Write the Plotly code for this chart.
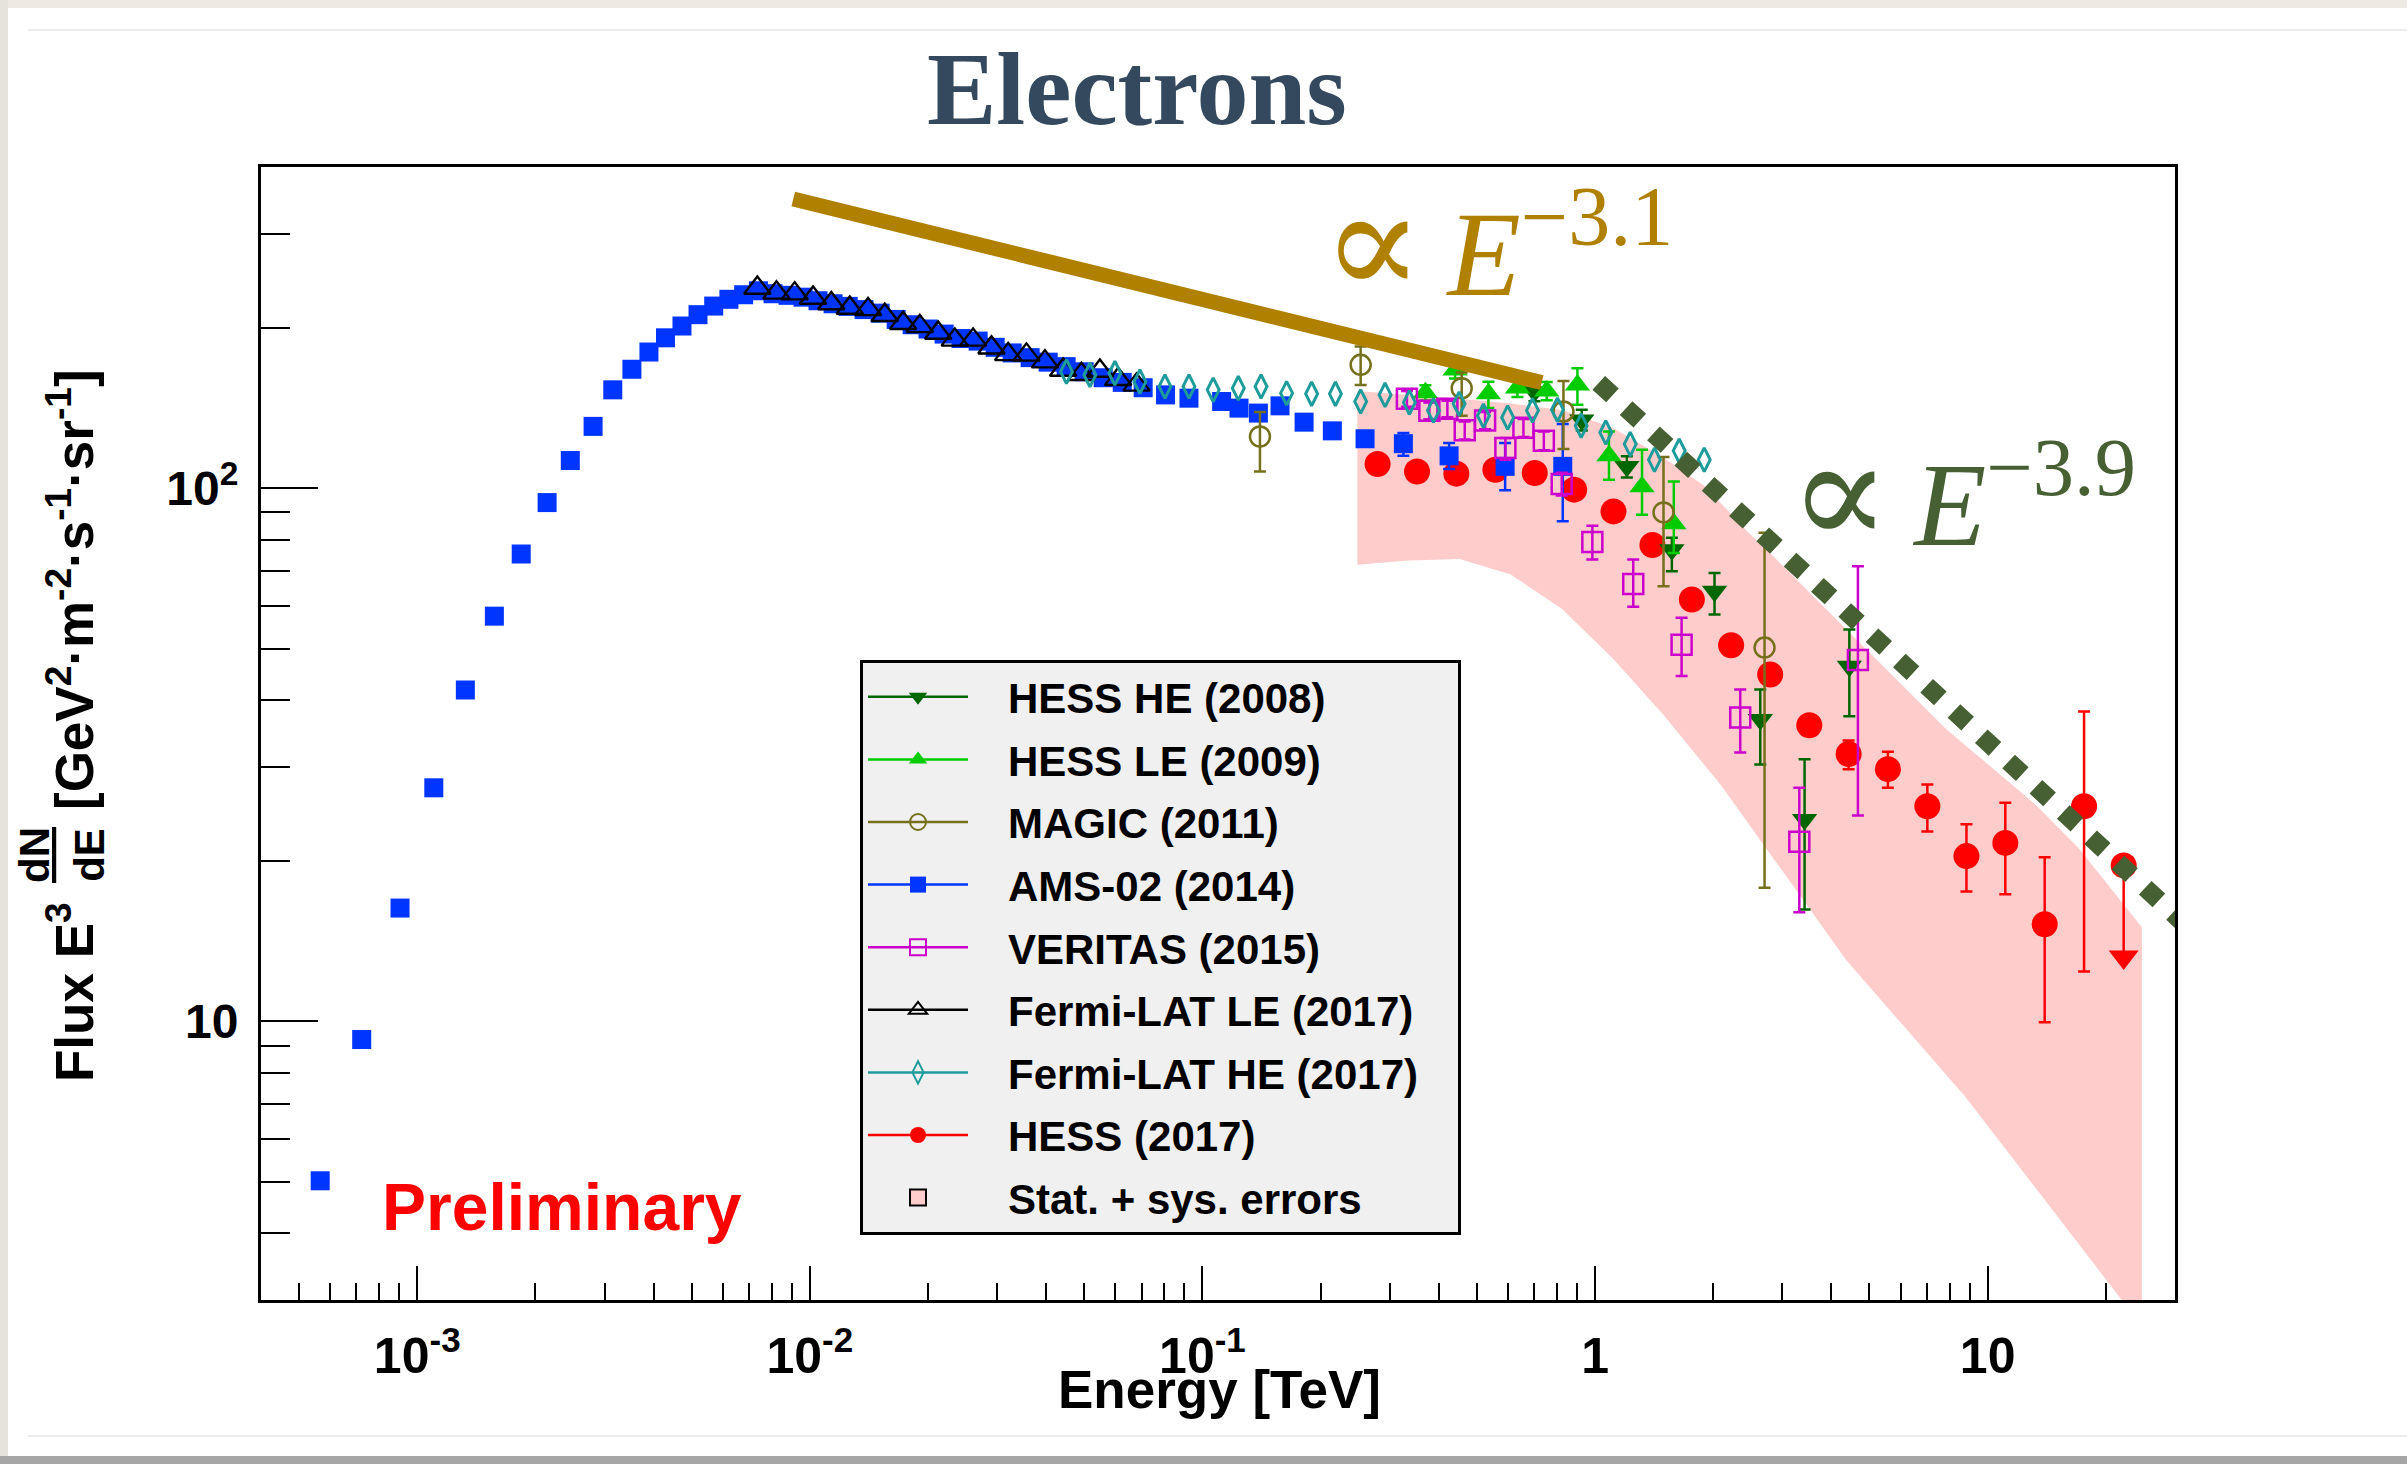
import math
import plotly.graph_objects as go

# ---------------- measured spectra: E in TeV, flux E^3 dN/dE ----------------
# AMS-02 (2014)
ams_E = [0.000566, 0.000722, 0.000904, 0.001102, 0.001326, 0.001572, 0.001840, 0.002142,
         0.002454, 0.002805, 0.003148, 0.003522, 0.003892, 0.004288, 0.004724, 0.005190,
         0.005690, 0.006220, 0.006783, 0.007396,
         0.008057, 0.008800, 0.009610, 0.01049, 0.01146, 0.01252, 0.01374, 0.01510,
         0.01659, 0.01822, 0.02000, 0.02198, 0.02428, 0.02683, 0.02965, 0.03276,
         0.03640, 0.04046, 0.04496, 0.04996, 0.05587, 0.06246, 0.07063,
         0.08054, 0.09239, 0.1119, 0.1239, 0.1388, 0.1576, 0.1815, 0.2142, 0.2595,
         0.3249, 0.4248, 0.5901, 0.8274]
ams_F = [5.02, 9.24, 16.3, 27.4, 41.8, 57.5, 75.2, 93.9,
         112.6, 130.5, 152.8, 167.0, 179.9, 191.3, 201.3, 211.4,
         219.4, 225.9, 230.4, 234.4,
         231.4, 229.8, 228.0, 224.5, 221.6, 219.1, 216.1, 212.8,
         207.1, 202.4, 198.7, 194.4, 190.7, 188.6, 183.6, 179.2,
         175.6, 172.2, 168.9, 165.2, 161.0, 157.8, 154.2,
         149.5, 147.4, 145.3, 141.2, 138.2, 142.6, 132.9, 128.0, 123.7,
         121.1, 114.9, 109.8, 109.8]
ams_err_hi = [0, 0, 0, 0, 0, 0, 0, 0, 0, 0, 0, 0, 0, 0, 0, 0, 0, 0, 0, 0,
              0, 0, 0, 0, 0, 0, 0, 0, 0, 0, 0, 0, 0, 0, 0, 0, 0, 0, 0, 0, 0, 0, 0,
              0, 0, 0, 0, 0, 0, 0, 0, 3.0, 5.7, 6.5, 11.6, 22.1]
ams_err_lo = [0, 0, 0, 0, 0, 0, 0, 0, 0, 0, 0, 0, 0, 0, 0, 0, 0, 0, 0, 0,
              0, 0, 0, 0, 0, 0, 0, 0, 0, 0, 0, 0, 0, 0, 0, 0, 0, 0, 0, 0, 0, 0, 0,
              0, 0, 0, 0, 0, 0, 0, 0, 3.0, 6.1, 6.3, 10.8, 23.2]

# Fermi-LAT LE (2017)
fermi_le_E = [0.00735, 0.00822, 0.00915, 0.01019, 0.01134, 0.01264, 0.01407, 0.01552,
              0.01728, 0.01906, 0.02122, 0.02340, 0.02605, 0.02901, 0.03200, 0.03562,
              0.03970, 0.04418, 0.04918, 0.05480, 0.06101, 0.06794]
fermi_le_F = [237.2, 232.3, 231.5, 227.2, 221.8, 217.6, 216.3, 210.9,
              203.7, 201.0, 195.3, 189.6, 189.6, 183.3, 178.1, 177.7,
              172.6, 166.5, 163.4, 165.8, 159.9, 156.1]

# Fermi-LAT HE (2017)
fermi_he_E = [0.04505, 0.05168, 0.05984, 0.06929, 0.08025, 0.09239, 0.1065, 0.1234,
              0.1410, 0.1638, 0.1897, 0.2181, 0.2529, 0.2918, 0.3365, 0.3876,
              0.4505, 0.5195, 0.5990, 0.6927, 0.8021, 0.9218, 1.065, 1.229,
              1.417, 1.638, 1.897]
fermi_he_F = [165.3, 163.0, 164.2, 158.3, 155.0, 155.0, 152.8, 153.9,
              155.0, 150.6, 150.2, 150.2, 145.3, 149.5, 144.7, 139.8,
              143.9, 136.6, 135.6, 139.8, 140.2, 130.9, 127.1, 120.9,
              113.0, 117.4, 113.0]

# MAGIC (2011)
magic_E = [0.1401, 0.2529, 0.4574, 0.8308, 1.494, 2.702]
magic_F = [124.9, 170.2, 153.9, 139.2, 90.0, 50.2]
magic_err_hi = [14.0, 14.0, 10.8, 19.6, 24.3, 32.2]
magic_err_lo = [17.5, 14.1, 17.3, 20.9, 24.6, 32.4]

# VERITAS (2015)
veritas_E = [0.3317, 0.3784, 0.4206, 0.4656, 0.5247, 0.5910, 0.6570, 0.7405,
             0.8224, 0.9842, 1.251, 1.661, 2.343, 3.313, 4.672]
veritas_F = [147.0, 139.6, 140.8, 128.3, 133.9, 118.8, 129.7, 122.7,
             101.8, 79.2, 66.1, 50.8, 37.1, 21.7, 47.6]
veritas_err_hi = [5.0, 5.0, 5.0, 5.0, 5.0, 5.3, 5.0, 5.0, 5.0, 5.8, 7.3, 6.3, 4.8, 5.7, 23.7]
veritas_err_lo = [5.0, 5.0, 5.0, 5.0, 5.0, 5.8, 5.0, 5.0, 5.0, 5.8, 6.2, 6.4, 5.2, 5.7, 23.3]

# HESS HE (2008)
hess_he_E = [0.7008, 0.9249, 1.205, 1.569, 2.015, 2.635, 3.417, 4.443]
hess_he_F = [151.5, 134.2, 109.7, 76.6, 64.0, 36.8, 23.9, 46.3]
hess_he_err_hi = [6.0, 6.0, 5.0, 4.1, 5.3, 5.1, 7.1, 8.0]
hess_he_err_lo = [6.0, 6.0, 5.0, 6.8, 6.1, 6.5, 7.7, 9.0]

# HESS LE (2009)
hess_le_E = [0.3697, 0.4400, 0.5350, 0.6342, 0.7531, 0.9017, 1.085, 1.317, 1.587]
hess_le_F = [150.9, 166.5, 150.2, 154.1, 152.1, 156.1, 114.9, 100.6, 85.7]
hess_le_err_hi = [5.0, 6.0, 8.1, 6.0, 6.0, 11.7, 12.7, 17.4, 17.2]
hess_le_err_lo = [5.0, 6.0, 9.0, 6.0, 6.0, 12.9, 11.3, 11.5, 10.2]

# HESS (2017)
hess17_E = [0.2793, 0.352, 0.4433, 0.5573, 0.7021, 0.8847, 1.114, 1.400, 1.764, 2.221,
            2.793, 3.513, 4.424, 5.57, 7.02, 8.83, 11.09, 13.97, 17.6]
hess17_F = [110.9, 107.4, 106.4, 108.2, 106.7, 99.3, 90.4, 78.2, 61.8, 50.7,
            44.7, 35.9, 31.7, 29.7, 25.3, 20.4, 21.6, 15.2, 25.3]
hess17_err_hi = [2.2, 2.1, 2.1, 2.2, 2.1, 2.0, 1.8, 1.6, 2.5, 2.0,
                 1.8, 1.4, 1.9, 2.3, 2.5, 3.0, 4.1, 5.1, 12.8]
hess17_err_lo = [2.2, 2.1, 2.1, 2.2, 2.1, 2.0, 1.8, 1.6, 2.5, 2.0,
                 1.8, 1.4, 2.0, 2.3, 2.6, 2.9, 4.3, 5.25, 12.9]
# HESS (2017) upper limit: point value and arrow tip
hess17_ul_E = [22.2]
hess17_ul_F = [19.6]
hess17_ul_tip = [13.2]

# HESS (2017) statistical + systematic band
band_E_upper = [0.248, 0.335, 0.452, 0.610, 0.823, 1.103, 1.479, 1.909, 2.46, 2.733,
                4.61, 7.77, 13.15, 17.06, 24.7]
band_F_upper = [152.0, 149.5, 147.0, 144.0, 140.0, 130.0, 114.6, 100.7, 82.4, 76.7,
                52.2, 35.5, 25.6, 21.1, 15.0]
band_E_lower = [0.248, 0.335, 0.452, 0.610, 0.823, 1.11, 1.496, 2.10, 2.734, 3.55,
                4.37, 8.77, 19.2, 21.95, 24.7]
band_F_lower = [71.8, 73.1, 73.6, 68.8, 59.4, 47.9, 37.5, 27.6, 21.1, 16.1,
                13.0, 7.22, 3.41, 3.0, 2.7]

# guide power laws
powlaw31_E = [0.009073, 0.7313]
powlaw31_F = [348.3, 157.7]
powlaw39_E = [1.022, 32.07]
powlaw39_F = [157.5, 15.1]

# axis ticks
x_major = [1e-3, 1e-2, 1e-1, 1, 10]
x_labels = ["10<sup>-3</sup>", "10<sup>-2</sup>", "10<sup>-1</sup>", "1", "10"]
y_major = [10, 100]
y_labels = ["10", "10<sup>2</sup>"]

# ---------------- geometry ----------------
FIG_W, FIG_H = 2407, 1464
L, R, T, B = 261, 2175, 167, 1300
PW, PH = R - L, B - T


def px(x):
    return (x - L) / PW


def py(y):
    return (B - y) / PH


SANS = "Liberation Sans, Arial, Helvetica, sans-serif"
SERIF = "Liberation Serif, Times New Roman, DejaVu Serif, serif"

C_HESS_HE = "#006600"
C_HESS_LE = "#00cc00"
C_MAGIC = "#76701c"
C_AMS = "#0034ff"
C_VERITAS = "#cc00cc"
C_FERMI_LE = "#000000"
C_FERMI_HE = "#1e9c9c"
C_HESS17 = "#ff0000"
C_BAND = "#ffcccc"
C_GOLD = "#b08000"
C_GREEN = "#466034"

fig = go.Figure()

# systematic band
fig.add_trace(go.Scatter(
    x=band_E_upper + band_E_lower[::-1],
    y=band_F_upper + band_F_lower[::-1],
    mode="lines", fill="toself", fillcolor=C_BAND, line=dict(width=0),
    hoverinfo="skip", showlegend=False))


def add_points(E, F, hi, lo, color, symbol, size, lw):
    marker = dict(symbol=symbol, size=size, color=color,
                  line=dict(color=color, width=lw))
    err = None
    if hi is not None:
        err = dict(type="data", symmetric=False, array=hi, arrayminus=lo,
                   color=color, thickness=2.5, width=6)
    fig.add_trace(go.Scatter(x=E, y=F, mode="markers", marker=marker,
                             error_y=err, showlegend=False))


add_points(hess17_E, hess17_F, hess17_err_hi, hess17_err_lo, C_HESS17, "circle", 26, 0)
# upper limit: point, line down and arrow head
fig.add_trace(go.Scatter(
    x=hess17_ul_E, y=hess17_ul_F, mode="markers",
    marker=dict(symbol="circle", size=26, color=C_HESS17),
    error_y=dict(type="data", symmetric=False, array=[0],
                 arrayminus=[hess17_ul_F[0] - hess17_ul_tip[0]],
                 color=C_HESS17, thickness=2.5, width=0),
    showlegend=False))
fig.add_trace(go.Scatter(
    x=hess17_ul_E, y=hess17_ul_tip, mode="markers",
    marker=dict(symbol="triangle-down", size=26, color=C_HESS17),
    showlegend=False))
add_points(ams_E, ams_F, ams_err_hi, ams_err_lo, C_AMS, "square", 19, 0)
add_points(hess_he_E, hess_he_F, hess_he_err_hi, hess_he_err_lo, C_HESS_HE, "triangle-down", 22, 0)
add_points(hess_le_E, hess_le_F, hess_le_err_hi, hess_le_err_lo, C_HESS_LE, "triangle-up", 22, 0)
add_points(magic_E, magic_F, magic_err_hi, magic_err_lo, C_MAGIC, "circle-open", 20, 2.5)
add_points(veritas_E, veritas_F, veritas_err_hi, veritas_err_lo, C_VERITAS, "square-open", 20, 2.5)
add_points(fermi_le_E, fermi_le_F, None, None, C_FERMI_LE, "triangle-up-open", 23, 2.4)
add_points(fermi_he_E, fermi_he_F, None, None, C_FERMI_HE, "diamond-tall-open", 17, 3)

# guide power laws
fig.add_trace(go.Scatter(x=powlaw31_E, y=powlaw31_F, mode="lines",
                         line=dict(color=C_GOLD, width=15), showlegend=False,
                         hoverinfo="skip"))
fig.add_trace(go.Scatter(x=powlaw39_E, y=powlaw39_F, mode="lines",
                         line=dict(color=C_GREEN, width=18.6, dash="dot"),
                         showlegend=False, hoverinfo="skip"))

# legend entries
NB = "\u00a0"
legend_entries = [
    ("HESS HE (2008)", C_HESS_HE, "triangle-down", 0),
    ("HESS LE (2009)", C_HESS_LE, "triangle-up", 0),
    ("MAGIC (2011)", C_MAGIC, "circle-open", 2),
    ("AMS-02 (2014)", C_AMS, "square", 0),
    ("VERITAS (2015)", C_VERITAS, "square-open", 2),
    ("Fermi-LAT LE (2017)", C_FERMI_LE, "triangle-up-open", 2),
    ("Fermi-LAT HE (2017)", C_FERMI_HE, "diamond-tall-open", 2),
    ("HESS (2017)", C_HESS17, "circle", 0),
]
for i, (name, color, symbol, lw) in enumerate(legend_entries):
    fig.add_trace(go.Scatter(
        x=[None], y=[None], mode="lines+markers", name=NB * 3 + name + NB * 3,
        legendgroup=f"g{i}",
        line=dict(color=color, width=2.5),
        marker=dict(symbol=symbol, size=16, color=color, line=dict(color=color, width=lw))))
fig.add_trace(go.Scatter(
    x=[None], y=[None], mode="markers", name=NB * 3 + "Stat. + sys. errors",
    legendgroup="g9",
    marker=dict(symbol="square", size=16, color=C_BAND, line=dict(color="black", width=2))))

x_minor = [m * 10.0 ** d for d in range(-4, 2) for m in range(2, 10)]
x_minor = [v for v in x_minor if 4e-4 < v < 30 and v not in x_major]
y_minor = [4, 5, 6, 7, 8, 9, 20, 30, 40, 50, 60, 70, 80, 90, 200, 300]

fig.update_layout(
    width=FIG_W, height=FIG_H,
    margin=dict(l=L, r=FIG_W - R, t=T, b=FIG_H - B, pad=0),
    paper_bgcolor="white", plot_bgcolor="white",
    xaxis=dict(
        type="log", range=[math.log10(4e-4), math.log10(30)],
        showline=True, linecolor="black", linewidth=3, mirror=True,
        showgrid=False, zeroline=False,
        ticks="inside", ticklen=34, tickwidth=2, tickcolor="black",
        tickmode="array", tickvals=x_major, ticktext=x_labels,
        tickfont=dict(family=SANS, size=50, color="black", weight="bold"),
        ticklabelstandoff=10,
        minor=dict(tickmode="array", tickvals=x_minor, ticks="inside", ticklen=17,
                   tickwidth=2, tickcolor="black", showgrid=False),
    ),
    yaxis=dict(
        type="log", range=[math.log10(3), math.log10(400)],
        showline=True, linecolor="black", linewidth=3, mirror=True,
        showgrid=False, zeroline=False,
        ticks="inside", ticklen=57, tickwidth=2, tickcolor="black",
        tickmode="array", tickvals=y_major, ticktext=y_labels,
        tickfont=dict(family=SANS, size=48, color="black", weight="bold"),
        ticklabelstandoff=10,
        minor=dict(tickmode="array", tickvals=y_minor, ticks="inside", ticklen=29,
                   tickwidth=2, tickcolor="black", showgrid=False),
    ),
    legend=dict(
        x=px(860), y=py(660), xanchor="left", yanchor="top",
        bgcolor="#f0f0f0", bordercolor="black", borderwidth=3,
        font=dict(family=SANS, size=42, color="black", weight="bold"),
        itemwidth=100, traceorder="grouped", tracegroupgap=5,
    ),
    showlegend=True,
)

# proportionality sign drawn larger than the rest of the power-law label
PROP = '<span style="font-size:150px">∝</span>\u2009'
annotations = [
    dict(text="Electrons", x=px(1137), y=py(88), xanchor="center", yanchor="middle",
         font=dict(family=SERIF, size=104, color="#34495e", weight="bold")),
    dict(text="Preliminary", x=px(562), y=py(1207), xanchor="center", yanchor="middle",
         font=dict(family=SANS, size=66, color="#ff0000", weight="bold")),
    dict(text="Energy [TeV]", x=px(1219), y=py(1389), xanchor="center", yanchor="middle",
         font=dict(family=SANS, size=53, color="black", weight="bold")),
    dict(text="Flux E<sup>3</sup>", x=px(70), y=py(992), xanchor="center", yanchor="middle",
         textangle=-90, font=dict(family=SANS, size=53, color="black", weight="bold")),
    dict(text="<u>dN</u><br>dE", x=px(62), y=py(855), xanchor="center", yanchor="middle",
         textangle=-90, font=dict(family=SANS, size=42, color="black", weight="bold")),
    dict(text="[GeV<sup>2</sup>·m<sup>-2</sup>·s<sup>-1</sup>·sr<sup>-1</sup>]",
         x=px(70), y=py(590), xanchor="center", yanchor="middle",
         textangle=-90, font=dict(family=SANS, size=53, color="black", weight="bold")),
    dict(text=PROP + "<i>E</i><sup>−3.1</sup>", x=px(1320), y=py(244), xanchor="left",
         yanchor="middle", font=dict(family=SERIF, size=120, color=C_GOLD)),
    dict(text=PROP + "<i>E</i><sup>−3.9</sup>", x=px(1787), y=py(494), xanchor="left",
         yanchor="middle", font=dict(family=SERIF, size=118, color=C_GREEN)),
]
for a in annotations:
    a.update(xref="paper", yref="paper", showarrow=False)
fig.update_layout(annotations=annotations)

# slide frame around the figure
shapes = [
    dict(type="rect", x0=px(0), x1=px(FIG_W), y0=py(0), y1=py(8),
         fillcolor="#eeeae3", line=dict(width=0), layer="below"),
    dict(type="rect", x0=px(0), x1=px(8), y0=py(0), y1=py(FIG_H),
         fillcolor="#e6e3dd", line=dict(width=0), layer="below"),
    dict(type="line", x0=px(28), x1=px(FIG_W), y0=py(30), y1=py(30),
         line=dict(color="#ebebeb", width=2), layer="below"),
    dict(type="line", x0=px(28), x1=px(FIG_W), y0=py(1436), y1=py(1436),
         line=dict(color="#ebebeb", width=2), layer="below"),
    dict(type="rect", x0=px(0), x1=px(FIG_W), y0=py(1456), y1=py(FIG_H),
         fillcolor="#a6a6a6", line=dict(width=0), layer="below"),
]
for s in shapes:
    s.update(xref="paper", yref="paper")
fig.update_layout(shapes=shapes)

fig.write_html("out.html")
